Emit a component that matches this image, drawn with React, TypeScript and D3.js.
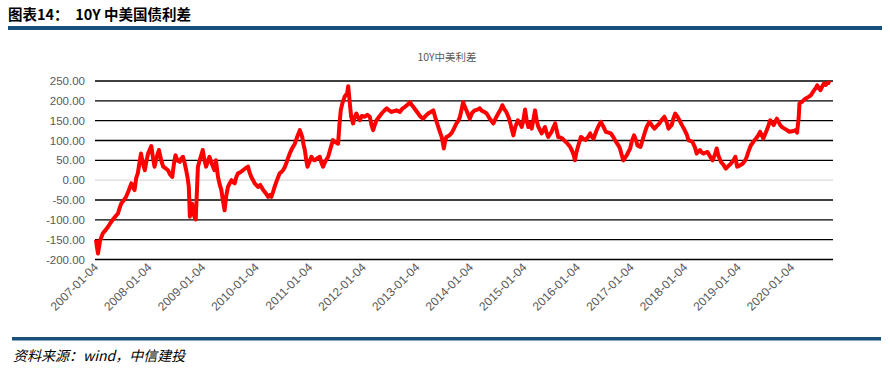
import React from "react";
import * as d3 from "d3";

const headerTitle = "图表14：  10Y 中美国债利差";
const chartTitle = "10Y中美利差";
const sourceText = "资料来源：wind，中信建投";

const yTicks = [250, 200, 150, 100, 50, 0, -50, -100, -150, -200];
const xTickLabels = [
  "2007-01-04", "2008-01-04", "2009-01-04", "2010-01-04", "2011-01-04",
  "2012-01-04", "2013-01-04", "2014-01-04", "2015-01-04", "2016-01-04",
  "2017-01-04", "2018-01-04", "2019-01-04", "2020-01-04",
];

const dates = [
  "2007-01-04","2007-01-10","2007-01-18","2007-02-01","2007-02-20","2007-03-10","2007-03-26","2007-04-12","2007-04-28","2007-05-15","2007-06-03","2007-06-14","2007-06-25","2007-07-10","2007-07-28","2007-08-15","2007-09-02","2007-09-14","2007-09-24","2007-10-05","2007-10-16","2007-10-28","2007-11-07","2007-11-20","2007-12-03","2007-12-14","2007-12-25",
  "2008-01-16","2008-01-26","2008-02-07","2008-02-22","2008-03-08","2008-03-22","2008-04-06","2008-04-22","2008-05-09","2008-05-24","2008-06-07","2008-06-18","2008-06-29","2008-07-12","2008-07-28","2008-08-08","2008-08-19","2008-08-30","2008-09-10","2008-09-20","2008-09-28","2008-10-05","2008-10-12","2008-10-20","2008-10-30","2008-11-08","2008-11-14","2008-11-22","2008-11-29","2008-12-15",
  "2009-01-01","2009-01-12","2009-01-24","2009-02-05","2009-02-16","2009-03-05","2009-03-22","2009-04-01","2009-04-15","2009-04-26","2009-05-08","2009-05-20","2009-05-30","2009-06-10","2009-06-22","2009-07-04","2009-07-16","2009-07-26","2009-08-07","2009-08-18","2009-08-29","2009-09-15","2009-10-02","2009-10-20","2009-11-06","2009-11-16","2009-11-28","2009-12-10","2009-12-21",
  "2010-01-13","2010-01-28","2010-02-17","2010-03-05","2010-03-23","2010-04-02","2010-04-14","2010-04-25","2010-05-06","2010-05-22","2010-06-09","2010-06-20","2010-07-02","2010-07-13","2010-07-24","2010-08-05","2010-08-17","2010-09-02","2010-09-21","2010-10-08","2010-10-25","2010-11-02","2010-11-10","2010-11-19","2010-11-28","2010-12-08","2010-12-16",
  "2011-01-12","2011-01-22","2011-02-03","2011-02-20","2011-03-10","2011-03-20","2011-04-01","2011-04-18","2011-05-06","2011-05-22","2011-06-08","2011-06-22","2011-07-13","2011-07-22","2011-07-31","2011-08-12","2011-08-26","2011-09-04","2011-09-12","2011-09-20","2011-10-01","2011-10-10","2011-10-23","2011-11-04","2011-11-15","2011-11-26","2011-12-08","2011-12-22",
  "2012-01-11","2012-01-28","2012-02-14","2012-02-25","2012-03-08","2012-03-20","2012-03-31","2012-04-18","2012-05-05","2012-05-22","2012-06-08","2012-06-25","2012-07-12","2012-07-28","2012-08-14","2012-08-25","2012-09-06","2012-09-22","2012-10-11","2012-10-28","2012-11-14","2012-11-25","2012-12-07","2012-12-20",
  "2013-01-09","2013-01-25","2013-02-12","2013-03-01","2013-03-18","2013-04-05","2013-04-22","2013-05-08","2013-05-26","2013-06-08","2013-06-18","2013-06-26","2013-07-03","2013-07-10","2013-07-20","2013-08-06","2013-08-24","2013-09-10","2013-09-27","2013-10-10","2013-10-21","2013-11-01","2013-11-12","2013-11-22","2013-12-04","2013-12-16","2013-12-27",
  "2014-01-12","2014-01-30","2014-02-18","2014-03-05","2014-03-18","2014-04-05","2014-04-21","2014-05-12","2014-06-06","2014-06-20","2014-07-09","2014-07-25","2014-08-06","2014-08-18","2014-09-02","2014-09-16","2014-09-27","2014-10-08","2014-10-20","2014-11-03","2014-11-20","2014-12-06","2014-12-16","2014-12-27",
  "2015-01-08","2015-01-19","2015-01-30","2015-02-11","2015-02-22","2015-03-05","2015-03-17","2015-03-28","2015-04-09","2015-04-20","2015-05-01","2015-05-12","2015-05-24","2015-06-03","2015-06-15","2015-06-27","2015-07-08","2015-07-19","2015-08-01","2015-08-12","2015-08-22","2015-09-03","2015-09-20","2015-10-08","2015-10-25","2015-11-11","2015-11-22","2015-12-04","2015-12-14","2015-12-22",
  "2016-01-08","2016-01-24","2016-02-10","2016-02-25","2016-03-15","2016-03-27","2016-04-06","2016-04-19","2016-04-29","2016-05-10","2016-05-22","2016-06-08","2016-06-25","2016-07-12","2016-07-30","2016-08-15","2016-09-02","2016-09-18","2016-10-05","2016-10-16","2016-10-27","2016-11-08","2016-11-20","2016-12-02","2016-12-13","2016-12-25",
  "2017-01-05","2017-01-20","2017-02-03","2017-02-12","2017-02-20","2017-03-05","2017-03-20","2017-04-05","2017-04-17","2017-05-05","2017-05-22","2017-06-08","2017-06-25","2017-07-12","2017-07-28","2017-08-15","2017-09-01","2017-09-12","2017-09-23","2017-10-04","2017-10-15","2017-10-28","2017-11-12","2017-11-26","2017-12-11","2017-12-26",
  "2018-01-15","2018-01-26","2018-02-06","2018-02-22","2018-03-12","2018-03-23","2018-04-03","2018-04-15","2018-04-26","2018-05-08","2018-05-19","2018-06-05","2018-06-22","2018-07-10","2018-07-26","2018-08-07","2018-08-18","2018-09-05","2018-09-23","2018-10-08","2018-10-26","2018-11-12","2018-11-29","2018-12-12","2018-12-24",
  "2019-01-15","2019-02-01","2019-02-17","2019-02-28","2019-03-11","2019-03-28","2019-04-16","2019-05-02","2019-05-19","2019-05-30","2019-06-10","2019-06-21","2019-07-02","2019-07-14","2019-07-26","2019-08-07","2019-08-19","2019-08-30","2019-09-10","2019-09-21","2019-10-02","2019-10-14","2019-10-25","2019-11-12","2019-11-29","2019-12-15",
  "2020-01-12","2020-01-25","2020-02-06","2020-02-17","2020-02-22","2020-02-28","2020-03-10","2020-03-22","2020-04-05","2020-04-24","2020-05-10","2020-05-29","2020-06-12","2020-06-22","2020-07-02","2020-07-14","2020-07-26","2020-08-07","2020-08-18","2020-08-29","2020-09-10","2020-09-20","2020-10-01",
];

const values = [
  -150,-168,-185,-152,-134,-126,-118,-108,-100,-92,-84,-70,-59,-52,-42,-26,-8,-18,-25,5,17,45,67,42,25,48,67,
  86,60,34,58,76,52,34,30,25,14,8,40,63,50,46,55,59,44,25,5,-17,-92,-70,-59,-85,-95,-99,-30,34,55,
  76,52,34,48,59,40,25,50,8,-10,-25,-55,-76,-40,-17,-8,0,-5,-8,8,17,20,25,30,34,20,8,0,-8,
  -17,-12,-25,-32,-42,-38,-42,-30,-17,0,17,20,25,32,42,55,67,80,92,110,126,118,109,90,76,50,34,
  59,52,50,55,59,45,34,48,59,80,101,96,92,140,176,195,210,215,218,237,193,160,143,160,168,158,151,162,
  160,165,160,140,126,140,151,160,168,175,181,176,172,174,176,174,172,180,185,190,197,190,185,178,
  168,160,155,162,168,172,176,155,134,120,109,95,80,95,109,112,118,130,143,150,160,178,197,186,176,165,155,
  170,176,178,181,175,172,168,155,143,155,168,178,189,180,172,160,147,130,113,135,151,142,134,150,
  178,150,134,145,130,150,176,150,134,126,118,126,134,120,109,116,122,132,143,125,109,108,105,98,92,84,76,65,50,
  67,90,109,104,101,110,118,110,105,115,126,136,147,135,122,120,118,108,97,88,80,65,50,57,63,72,
  80,98,113,100,88,86,84,102,122,135,147,138,130,137,143,152,160,145,130,135,139,155,168,160,151,140,
  130,115,101,99,97,82,67,72,76,70,67,69,71,60,50,65,80,62,46,38,29,36,42,50,59,
  34,38,42,50,59,72,88,98,105,114,122,113,105,115,126,138,151,145,139,147,155,147,139,134,130,126,
  122,124,126,120,158,193,195,197,202,206,210,214,225,232,239,233,227,236,244,240,244,246,244,
];

const W = 890;
const H = 370;
const left = 96;
const right = 832;
const yTop = 81;
const yBottom = 259.5;

export default function App() {
  const parse = d3.timeParse("%Y-%m-%d");
  const data = dates.map((d, i) => ({ date: parse(d) as Date, value: values[i] }));
  const x = d3
    .scaleTime()
    .domain([parse("2007-01-04") as Date, parse("2020-10-01") as Date])
    .range([left, right]);
  const y = d3.scaleLinear().domain([-200, 250]).range([yBottom, yTop]);
  const line = d3
    .line<{ date: Date; value: number }>()
    .x((d) => x(d.date))
    .y((d) => y(d.value));

  const axisFont = "Arial, 'Liberation Sans', sans-serif";

  return (
    <svg
      width={W}
      height={H}
      style={{ position: "absolute", left: 0, top: 0, background: "#fff" }}
    >
      <text
        x={8}
        y={20}
        fontFamily="'Noto Sans CJK SC', sans-serif"
        fontWeight={700}
        fontSize={14.5}
        fill="#000"
        style={{ whiteSpace: "pre" }}
      >
        {headerTitle}
      </text>
      <rect x={8} y={26} width={874} height={4} fill="#17507a" />

      <text
        x={447}
        y={61}
        textAnchor="middle"
        fontFamily="'Noto Sans CJK SC', sans-serif"
        fontSize={10.5}
        fill="#595959"
      >
        {chartTitle}
      </text>

      {yTicks.map((t) => (
        <g key={t}>
          <line
            x1={95}
            x2={833}
            y1={y(t)}
            y2={y(t)}
            stroke={t === 0 ? "#d9d9d9" : "#000"}
            strokeWidth={1.3}
          />
          <text
            x={85}
            y={y(t) + 4}
            textAnchor="end"
            fontFamily={axisFont}
            fontSize={11.5}
            fill="#595959"
          >
            {t.toFixed(2)}
          </text>
        </g>
      ))}

      <path
        d={line(data) || ""}
        fill="none"
        stroke="#ff0000"
        strokeWidth={4}
        strokeLinejoin="round"
      />

      {xTickLabels.map((lab) => {
        const px = x(parse(lab) as Date);
        return (
          <text
            key={lab}
            transform={`translate(${px + 3},${268}) rotate(-45)`}
            textAnchor="end"
            fontFamily={axisFont}
            fontSize={12}
            fill="#595959"
          >
            {lab}
          </text>
        );
      })}

      <rect x={12} y={337} width={869} height={3.5} fill="#17507a" />
      <text
        x={13}
        y={361}
        fontFamily="'Noto Sans CJK SC', sans-serif"
        fontStyle="italic"
        fontSize={14}
        fill="#000"
      >
        {sourceText}
      </text>
    </svg>
  );
}
